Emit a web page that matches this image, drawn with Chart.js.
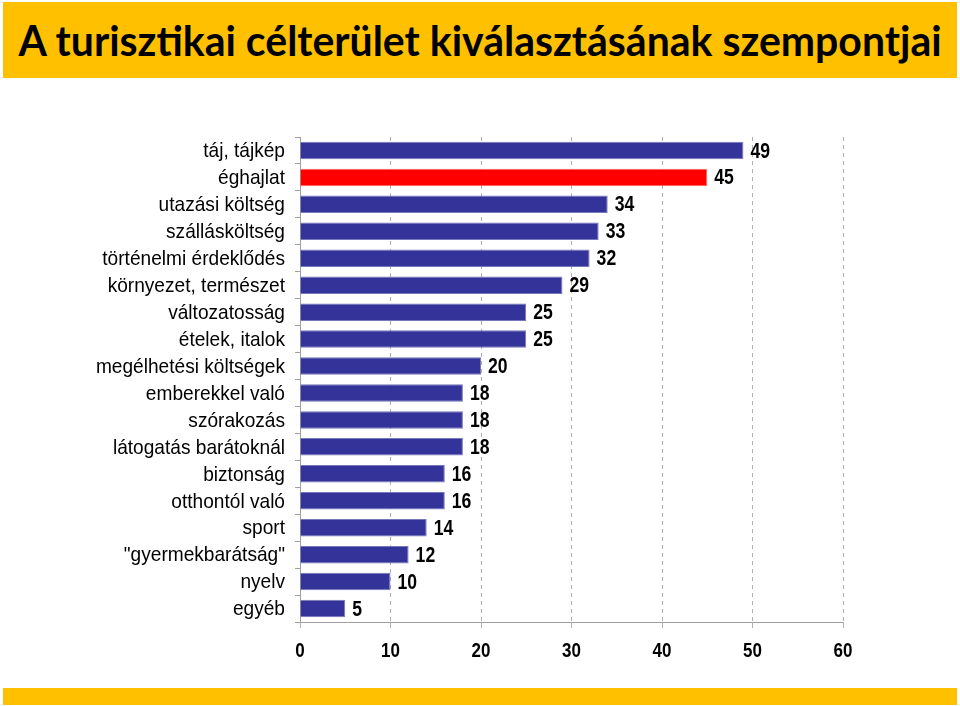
<!DOCTYPE html>
<html>
<head>
<meta charset="utf-8">
<script src="https://cdn.jsdelivr.net/npm/chart.js@4.4.1/dist/chart.umd.min.js"></script>
<style>
  body { margin: 0; background: #fff; width: 960px; height: 706px; overflow: hidden; position: relative; }
  #titleBar { position: absolute; left: 3px; top: 2px; width: 954px; height: 76px; background: #FFC000; text-align: center; }
  #titleText { display: inline-block; font: bold 42px Lato, sans-serif; line-height: 76px; color: #000; white-space: nowrap; transform-origin: center; }
  #footBar { position: absolute; left: 3px; top: 688px; width: 954px; height: 17px; background: #FFC000; }
  #wrap { position: absolute; left: 0; top: 0; width: 960px; height: 706px; }
</style>
</head>
<body>
<div id="titleBar"><span id="titleText">A turisztikai célterület kiválasztásának szempontjai</span></div>
<div id="footBar"></div>
<div id="wrap"><canvas id="chart"></canvas></div>
<script>
const categories = [
  'táj, tájkép', 'éghajlat', 'utazási költség', 'szállásköltség', 'történelmi érdeklődés',
  'környezet, természet', 'változatosság', 'ételek, italok', 'megélhetési költségek',
  'emberekkel való', 'szórakozás', 'látogatás barátoknál', 'biztonság', 'otthontól való',
  'sport', '"gyermekbarátság"', 'nyelv', 'egyéb'
];
const values = [49, 45, 34, 33, 32, 29, 25, 25, 20, 18, 18, 18, 16, 16, 14, 12, 10, 5];
const highlighted = ['éghajlat'];
const xTicks = [0, 10, 20, 30, 40, 50, 60];

const BLUE = '#333399';
const RED = '#FF0000';
const FONT = '"Liberation Sans", Arial, sans-serif';

// squeeze the title to the width it has on the slide
const t = document.getElementById('titleText');
t.style.transform = 'scaleX(' + (923 / t.offsetWidth) + ')';

// the slide uses Arial Narrow, so draw the texts horizontally condensed
function narrowText(ctx, text, x, y, align, sx) {
  ctx.save();
  ctx.translate(x, y);
  ctx.scale(sx, 1);
  ctx.textAlign = align;
  ctx.fillText(text, 0, 0);
  ctx.restore();
}

const narrowLabels = {
  id: 'narrowLabels',
  afterDraw(chart) {
    const ctx = chart.ctx;
    const xs = chart.scales.x, ys = chart.scales.y;
    ctx.save();
    ctx.fillStyle = '#000';
    ctx.textBaseline = 'middle';

    ctx.font = '21px ' + FONT;
    categories.forEach((c, i) => narrowText(ctx, c, 285, ys.getPixelForValue(i) + 1, 'right', 0.91));

    ctx.font = 'bold 20px ' + FONT;
    xTicks.forEach(v => narrowText(ctx, String(v), xs.getPixelForValue(v), 651, 'center', 0.85));

    ctx.font = 'bold 22px ' + FONT;
    chart.getDatasetMeta(0).data.forEach((bar, i) => {
      narrowText(ctx, String(values[i]), bar.x + 7, bar.y + 1, 'left', 0.8);
    });
    ctx.restore();
  }
};

new Chart(document.getElementById('chart'), {
  type: 'bar',
  data: {
    labels: categories,
    datasets: [{
      data: values,
      backgroundColor: categories.map(c => highlighted.includes(c) ? RED : BLUE),
      borderColor: categories.map(c => highlighted.includes(c) ? '#ff6666' : '#7777bb'),
      borderWidth: 1,
      barPercentage: 0.65,
      categoryPercentage: 1
    }]
  },
  options: {
    indexAxis: 'y',
    responsive: true,
    maintainAspectRatio: false,
    animation: false,
    layout: { padding: { top: 137, right: 117, bottom: 0, left: 0 } },
    plugins: { legend: { display: false }, tooltip: { enabled: false } },
    scales: {
      x: {
        min: 0, max: 60,
        afterBuildTicks: s => { s.ticks = xTicks.map(v => ({ value: v })); },
        afterFit: s => { s.height = 84; },
        ticks: { display: false },
        grid: { color: '#b0b0b0', tickLength: 6, tickColor: '#b0b0b0' },
        border: { display: true, color: '#a0a0a0', dash: [4, 4] }
      },
      y: {
        afterFit: s => { s.width = 300; },
        ticks: { display: false },
        grid: { drawOnChartArea: false, tickLength: 5, color: '#a0a0a0' },
        border: { display: true, color: '#a0a0a0' }
      }
    }
  },
  plugins: [narrowLabels]
});
</script>
</body>
</html>
